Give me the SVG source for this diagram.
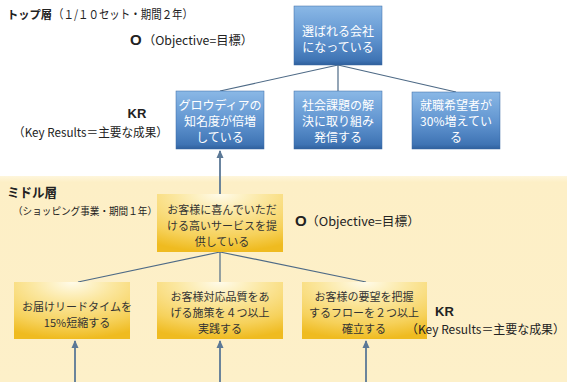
<svg xmlns="http://www.w3.org/2000/svg" width="567" height="382" viewBox="0 0 567 382">
<defs>
<linearGradient id="blue" x1="0" y1="0" x2="0" y2="1">
<stop offset="0" stop-color="#8ab8e6"/>
<stop offset="0.55" stop-color="#5f93cf"/>
<stop offset="0.92" stop-color="#3f74b4"/>
<stop offset="1" stop-color="#2f5f9c"/>
</linearGradient>
<radialGradient id="gold" cx="0.5" cy="0" r="1" fx="0.5" fy="0">
<stop offset="0" stop-color="#fffbea"/>
<stop offset="0.35" stop-color="#fbe7a0"/>
<stop offset="0.75" stop-color="#f6d15a"/>
<stop offset="1" stop-color="#efbb20"/>
</radialGradient>
<linearGradient id="band" x1="0" y1="0" x2="0" y2="1">
<stop offset="0" stop-color="#fef6dc"/>
<stop offset="0.03" stop-color="#fdefc6"/>
<stop offset="1" stop-color="#fdf0c9"/>
</linearGradient>
<marker id="ah" markerWidth="8" markerHeight="8" refX="7" refY="4" orient="auto" markerUnits="userSpaceOnUse">
<path d="M0,0.5 L8,4 L0,7.5 Z" fill="#5b7896"/>
</marker>
</defs>
<style>
.lbl{font-family:"Noto Sans CJK JP","Liberation Sans",sans-serif;fill:#222}
.lat{font-family:"Liberation Sans","Noto Sans CJK JP",sans-serif;fill:#222}
.b{font-weight:bold}
.bt{font-family:"Noto Sans CJK JP","Liberation Sans",sans-serif;font-size:12px;fill:#ffffff;text-anchor:middle}
.yt{font-family:"Noto Sans CJK JP","Liberation Sans",sans-serif;font-size:11px;fill:#333333;text-anchor:middle}
.bb{fill:url(#blue);stroke:#3a6aa5;stroke-width:0.5}
.yb{fill:url(#gold)}
.ln{stroke:#4e6a86;stroke-width:1.2;fill:none}
.ar{stroke:#5b7896;stroke-width:1.8;fill:none;marker-end:url(#ah)}
</style>
<rect x="0" y="0" width="567" height="382" fill="#ffffff"/>
<rect x="0" y="176" width="567" height="206" fill="url(#band)"/>

<g id="connectors">
<line class="ln" x1="338" y1="65" x2="220" y2="91"/>
<line class="ln" x1="338" y1="65" x2="338" y2="91"/>
<line class="ln" x1="338" y1="65" x2="456" y2="92"/>
<line class="ar" x1="220" y1="194" x2="220" y2="151"/>
<line class="ln" x1="220" y1="252" x2="78" y2="282"/>
<line class="ln" x1="220" y1="252" x2="220" y2="282"/>
<line class="ln" x1="220" y1="252" x2="366" y2="282"/>
<line class="ar" x1="75" y1="382" x2="75" y2="341"/>
<line class="ar" x1="220" y1="382" x2="220" y2="341"/>
<line class="ar" x1="366" y1="382" x2="366" y2="341"/>
</g>

<g id="n-top">
<rect class="bb" x="294" y="6" width="88" height="59"/>
<text class="bt" x="338" y="36">選ばれる会社</text>
<text class="bt" x="338" y="52">になっている</text>
</g>
<g id="n-kr1">
<rect class="bb" x="176" y="91" width="88" height="58"/>
<text class="bt" x="220" y="110">グロウディアの</text>
<text class="bt" x="220" y="126">知名度が倍増</text>
<text class="bt" x="220" y="142">している</text>
</g>
<g id="n-kr2">
<rect class="bb" x="294" y="91" width="88" height="58"/>
<text class="bt" x="338" y="110">社会課題の解</text>
<text class="bt" x="338" y="126">決に取り組み</text>
<text class="bt" x="338" y="142">発信する</text>
</g>
<g id="n-kr3">
<rect class="bb" x="412" y="92" width="88" height="57"/>
<text class="bt" x="456" y="110">就職希望者が</text>
<text class="bt" x="456" y="126">30%増えてい</text>
<text class="bt" x="456" y="142">る</text>
</g>
<g id="n-mid">
<rect class="yb" x="157" y="194" width="126" height="58"/>
<text class="yt" x="222" y="214">お客様に喜んでいただ</text>
<text class="yt" x="222" y="230">ける高いサービスを提</text>
<text class="yt" x="222" y="246">供している</text>
</g>
<g id="n-m1">
<rect class="yb" x="14" y="282" width="116" height="57"/>
<text class="yt" x="77" y="311">お届けリードタイムを</text>
<text class="yt" x="77" y="327">15%短縮する</text>
</g>
<g id="n-m2">
<rect class="yb" x="157" y="282" width="126" height="57"/>
<text class="yt" x="220" y="301">お客様対応品質をあ</text>
<text class="yt" x="220" y="317">げる施策を４つ以上</text>
<text class="yt" x="220" y="333">実践する</text>
</g>
<g id="n-m3">
<rect class="yb" x="302" y="282" width="125" height="57"/>
<text class="yt" x="364" y="301">お客様の要望を把握</text>
<text class="yt" x="364" y="317">するフローを２つ以上</text>
<text class="yt" x="364" y="333">確立する</text>
</g>

<g id="labels">
<text class="lbl b" x="7" y="19" font-size="11.5" textLength="45" lengthAdjust="spacingAndGlyphs">トップ層</text>
<text class="lbl" x="53" y="19" font-size="12" textLength="140" lengthAdjust="spacingAndGlyphs">（１/１０セット・期間２年）</text>
<text class="lat b" x="130" y="45" font-size="15">O</text>
<text class="lbl" x="143" y="45" font-size="12" textLength="110" lengthAdjust="spacingAndGlyphs">（Objective=目標）</text>
<text class="lat b" x="137" y="118" font-size="13" text-anchor="middle">KR</text>
<text class="lbl" x="13" y="137" font-size="12" textLength="155" lengthAdjust="spacingAndGlyphs">（Key Results＝主要な成果）</text>
<text class="lbl b" x="7" y="197" font-size="13" textLength="50" lengthAdjust="spacingAndGlyphs">ミドル層</text>
<text class="lbl" x="13" y="215" font-size="10" textLength="144" lengthAdjust="spacingAndGlyphs">（ショッピング事業・期間１年）</text>
<text class="lat b" x="295" y="226" font-size="15">O</text>
<text class="lbl" x="306" y="226" font-size="12" textLength="114" lengthAdjust="spacingAndGlyphs">（Objective=目標）</text>
<text class="lat b" x="435" y="316" font-size="13">KR</text>
<text class="lbl" x="406" y="334" font-size="12" textLength="159" lengthAdjust="spacingAndGlyphs">（Key Results＝主要な成果）</text>
</g>
</svg>
